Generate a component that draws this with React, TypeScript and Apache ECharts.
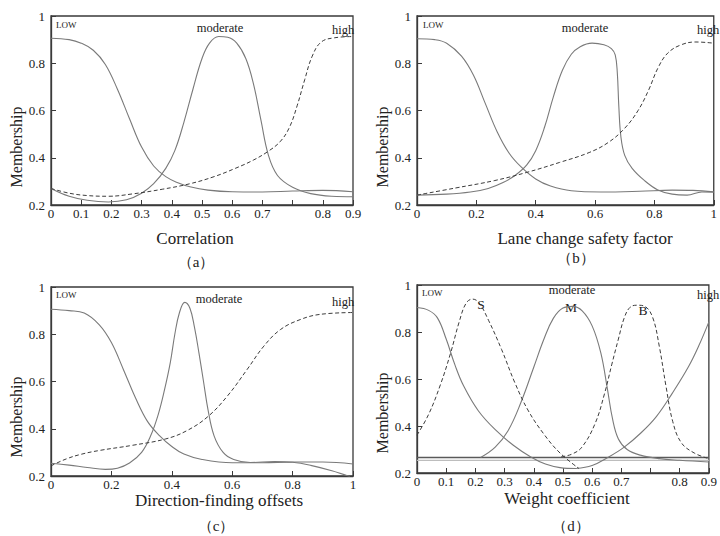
import React, { useEffect, useRef } from "react";
import * as echarts from "echarts";

// ---------- data (x in axis units, y = membership) ----------
const X_LABELS_A = ["0", "0.1", "0.2", "0.3", "0.4", "0.5", "0.6", "0.7", "", "0.8", "0.9"];
const X_LABELS_B = ["0", "0.2", "0.4", "0.6", "0.8", "1"];
const Y_LABELS = ["0.2", "0.4", "0.6", "0.8", "1"];

const A_LOW = [[0,0.906],[0.06,0.9],[0.1,0.885],[0.14,0.855],[0.18,0.795],[0.22,0.69],[0.26,0.565],[0.3,0.445],[0.34,0.365],[0.38,0.32],[0.42,0.294],[0.46,0.277],[0.52,0.263],[0.6,0.256],[0.7,0.255],[0.8,0.259],[0.9,0.262],[1,0.256]];
const A_MOD = [[0,0.27],[0.06,0.237],[0.12,0.22],[0.19,0.213],[0.25,0.222],[0.3,0.25],[0.34,0.29],[0.38,0.355],[0.41,0.43],[0.44,0.55],[0.47,0.69],[0.5,0.82],[0.525,0.885],[0.555,0.913],[0.585,0.91],[0.615,0.885],[0.645,0.82],[0.67,0.715],[0.695,0.56],[0.72,0.41],[0.75,0.325],[0.8,0.275],[0.86,0.248],[0.93,0.237],[1,0.235]];
const A_HIGH = [[0,0.27],[0.06,0.25],[0.12,0.24],[0.19,0.237],[0.27,0.247],[0.37,0.267],[0.46,0.29],[0.54,0.32],[0.61,0.355],[0.67,0.39],[0.72,0.428],[0.76,0.47],[0.79,0.53],[0.815,0.62],[0.84,0.73],[0.865,0.83],[0.895,0.89],[0.94,0.908],[1,0.913]];

const B_LOW = [[0,0.904],[0.06,0.9],[0.1,0.885],[0.15,0.83],[0.19,0.75],[0.23,0.63],[0.27,0.51],[0.31,0.42],[0.35,0.362],[0.4,0.31],[0.45,0.28],[0.52,0.26],[0.62,0.255],[0.75,0.258],[0.86,0.263],[0.93,0.262],[1,0.256]];
const B_MOD = [[0,0.242],[0.1,0.246],[0.18,0.255],[0.24,0.27],[0.29,0.295],[0.33,0.325],[0.37,0.37],[0.4,0.43],[0.43,0.53],[0.46,0.66],[0.49,0.77],[0.52,0.838],[0.55,0.87],[0.59,0.885],[0.63,0.878],[0.655,0.862],[0.668,0.835],[0.675,0.76],[0.68,0.62],[0.687,0.49],[0.7,0.41],[0.725,0.355],[0.765,0.305],[0.81,0.265],[0.86,0.246],[0.91,0.242],[0.96,0.255],[1,0.254]];
const B_HIGH = [[0,0.242],[0.13,0.272],[0.26,0.303],[0.37,0.338],[0.48,0.38],[0.58,0.422],[0.645,0.465],[0.7,0.525],[0.745,0.6],[0.78,0.685],[0.812,0.78],[0.845,0.843],[0.89,0.878],[0.94,0.89],[1,0.885]];

const C_LOW = [[0,0.906],[0.06,0.9],[0.11,0.89],[0.16,0.84],[0.2,0.765],[0.24,0.65],[0.28,0.53],[0.32,0.43],[0.36,0.37],[0.4,0.325],[0.44,0.293],[0.5,0.27],[0.6,0.256],[0.7,0.256],[0.8,0.259],[0.9,0.259],[1,0.251]];
const C_MOD = [[0,0.254],[0.06,0.246],[0.12,0.236],[0.18,0.228],[0.22,0.233],[0.26,0.255],[0.3,0.3],[0.33,0.37],[0.355,0.46],[0.375,0.56],[0.395,0.68],[0.41,0.8],[0.425,0.89],[0.443,0.935],[0.46,0.91],[0.475,0.83],[0.49,0.72],[0.505,0.6],[0.52,0.48],[0.54,0.37],[0.57,0.3],[0.605,0.27],[0.66,0.257],[0.74,0.261],[0.8,0.258],[0.86,0.245],[0.93,0.222],[0.99,0.197]];
const C_HIGH = [[0,0.243],[0.05,0.272],[0.1,0.292],[0.16,0.308],[0.27,0.33],[0.38,0.357],[0.45,0.392],[0.52,0.452],[0.585,0.54],[0.65,0.652],[0.705,0.75],[0.76,0.82],[0.825,0.862],[0.89,0.884],[1,0.892]];

const D_LOW = [[0,0.904],[0.04,0.892],[0.07,0.86],[0.1,0.77],[0.13,0.66],[0.16,0.57],[0.21,0.465],[0.27,0.382],[0.33,0.318],[0.39,0.268],[0.44,0.238],[0.49,0.223],[0.545,0.219]];
const D_HIGH = [[0.545,0.219],[0.6,0.232],[0.655,0.267],[0.71,0.31],[0.765,0.368],[0.82,0.44],[0.875,0.54],[0.93,0.652],[0.965,0.74],[1,0.843]];
const D_S = [[0,0.361],[0.04,0.45],[0.08,0.575],[0.115,0.71],[0.145,0.845],[0.168,0.922],[0.19,0.94],[0.212,0.925],[0.245,0.85],[0.29,0.725],[0.335,0.585],[0.38,0.468],[0.435,0.365],[0.49,0.285],[0.555,0.219]];
const D_M = [[0.218,0.266],[0.268,0.31],[0.312,0.38],[0.356,0.5],[0.4,0.65],[0.435,0.77],[0.467,0.858],[0.5,0.902],[0.533,0.909],[0.566,0.89],[0.6,0.826],[0.63,0.71],[0.652,0.56],[0.67,0.43],[0.69,0.345],[0.72,0.3],[0.765,0.276],[0.83,0.261],[0.9,0.254],[1,0.247]];
const D_B = [[0.494,0.269],[0.53,0.28],[0.565,0.31],[0.61,0.41],[0.643,0.54],[0.667,0.66],[0.69,0.77],[0.71,0.86],[0.73,0.905],[0.755,0.914],[0.782,0.908],[0.808,0.86],[0.83,0.74],[0.853,0.57],[0.876,0.42],[0.905,0.33],[0.95,0.285],[1,0.261]];
const D_BASE_DARK = [[0,0.266],[1,0.266]];
const D_BASE_LIGHT = [[0,0.254],[1,0.254]];

const X_NAMES = ["Correlation", "Lane change safety factor", "Direction-finding offsets", "Weight coefficient"];
const PANEL_TAGS = ["（a）", "（b）", "（c）", "（d）"];
const Y_NAME = "Membership";

const FONT = "Liberation Serif";
const TXT = "#222";
const FRAME = "#3a3a3a";
const SOLID = "#7a7a7a";
const DASH = "#3c3c3c";

const GRIDS = [
  { left: 51, top: 16, width: 302, height: 189 },
  { left: 417, top: 16, width: 302, height: 189 },
  { left: 51, top: 287, width: 302, height: 189 },
  { left: 417, top: 285, width: 302, height: 188 },
];

function xAxis(gi: number, step: number, labels: string[]) {
  return {
    type: "value", gridIndex: gi, min: 0, max: 1, interval: step,
    axisLine: { show: true, lineStyle: { color: FRAME, width: 1.3 } },
    axisTick: { show: true, inside: true, length: 5, lineStyle: { color: FRAME, width: 1 } },
    splitLine: { show: false },
    axisLabel: {
      margin: 2, fontFamily: FONT, fontSize: 13, color: TXT, showMaxLabel: true, showMinLabel: true,
      formatter: (v: number) => labels[Math.round(v / step)] ?? "",
    },
  };
}
function yAxis(gi: number) {
  return {
    type: "value", gridIndex: gi, min: 0.2, max: 1, interval: 0.2,
    axisLine: { show: true, lineStyle: { color: FRAME, width: 1.3 } },
    axisTick: { show: true, inside: true, length: 5, lineStyle: { color: FRAME, width: 1 } },
    splitLine: { show: false },
    axisLabel: {
      margin: 6, fontFamily: FONT, fontSize: 13, color: TXT,
      formatter: (v: number) => Y_LABELS[Math.round((v - 0.2) / 0.2)] ?? "",
    },
  };
}
function line(gi: number, data: number[][], dashed: boolean, name: string) {
  return {
    type: "line", name, xAxisIndex: gi, yAxisIndex: gi, data, smooth: 0.4,
    symbol: "none", clip: true,
    lineStyle: dashed
      ? { color: DASH, width: 1, type: [4, 2.5] }
      : { color: SOLID, width: 1.1 },
  };
}
function txt(x: number, y: number, text: string, size: number, align = "left", rotation = 0) {
  return {
    type: "text", x, y, rotation,
    style: { text, fontSize: size, fontFamily: FONT, fill: TXT, align, verticalAlign: "middle" },
  };
}

export default function App() {
  const ref = useRef<HTMLDivElement>(null);
  useEffect(() => {
    document.body.style.margin = "0";
    const chart = echarts.init(ref.current!, null, { renderer: "svg" });
    chart.setOption({
      animation: false,
      backgroundColor: "#ffffff",
      textStyle: { fontFamily: FONT },
      grid: GRIDS.map((g) => ({ ...g, show: true, borderColor: FRAME, borderWidth: 1.3, backgroundColor: "transparent" })),
      xAxis: [xAxis(0, 0.1, X_LABELS_A), xAxis(1, 0.2, X_LABELS_B), xAxis(2, 0.2, X_LABELS_B), xAxis(3, 0.1, X_LABELS_A)],
      yAxis: [yAxis(0), yAxis(1), yAxis(2), yAxis(3)],
      series: [
        line(0, A_LOW, false, "LOW"), line(0, A_MOD, false, "moderate"), line(0, A_HIGH, true, "high"),
        line(1, B_LOW, false, "LOW"), line(1, B_MOD, false, "moderate"), line(1, B_HIGH, true, "high"),
        line(2, C_LOW, false, "LOW"), line(2, C_MOD, false, "moderate"), line(2, C_HIGH, true, "high"),
        {
          type: "line", xAxisIndex: 3, yAxisIndex: 3, data: D_BASE_LIGHT, symbol: "none",
          lineStyle: { color: "#bdbdbd", width: 1.3 },
        },
        {
          type: "line", xAxisIndex: 3, yAxisIndex: 3, data: D_BASE_DARK, symbol: "none",
          lineStyle: { color: "#5a5a5a", width: 1.3 },
        },
        line(3, D_LOW, false, "LOW"), line(3, D_HIGH, false, "high"), line(3, D_M, false, "M"),
        line(3, D_S, true, "S"), line(3, D_B, true, "B"),
      ],
      graphic: [
        // panel (a)
        txt(56, 25, "LOW", 9), txt(220, 28, "moderate", 12.5, "center"), txt(332, 30, "high", 12.5),
        // panel (b)
        txt(423, 25, "LOW", 9), txt(585, 28, "moderate", 12.5, "center"), txt(697, 30, "high", 12.5),
        // panel (c)
        txt(56, 295, "LOW", 9), txt(219, 299, "moderate", 12.5, "center"), txt(332, 302, "high", 12.5),
        // panel (d)
        txt(422, 293, "LOW", 9), txt(572, 290, "moderate", 12.5, "center"), txt(697, 295, "high", 12.5),
        txt(481, 304, "S", 13.5, "center"), txt(571, 307, "M", 13.5, "center"), txt(643, 310, "B", 13.5, "center"),
        // axis names
        txt(16, 147, Y_NAME, 16, "center", Math.PI / 2),
        txt(382, 147, Y_NAME, 16, "center", Math.PI / 2),
        txt(16, 417, Y_NAME, 16, "center", Math.PI / 2),
        txt(382, 413, Y_NAME, 16, "center", Math.PI / 2),
        txt(195, 238, X_NAMES[0], 17, "center"),
        txt(585, 238, X_NAMES[1], 17, "center"),
        txt(219, 500, X_NAMES[2], 17, "center"),
        txt(567, 498, X_NAMES[3], 17, "center"),
        txt(196, 262, PANEL_TAGS[0], 15, "center"),
        txt(576, 258, PANEL_TAGS[1], 15, "center"),
        txt(216, 526, PANEL_TAGS[2], 15, "center"),
        txt(571, 526, PANEL_TAGS[3], 15, "center"),
      ],
    });
    return () => chart.dispose();
  }, []);
  return <div ref={ref} style={{ width: 720, height: 536 }} />;
}
